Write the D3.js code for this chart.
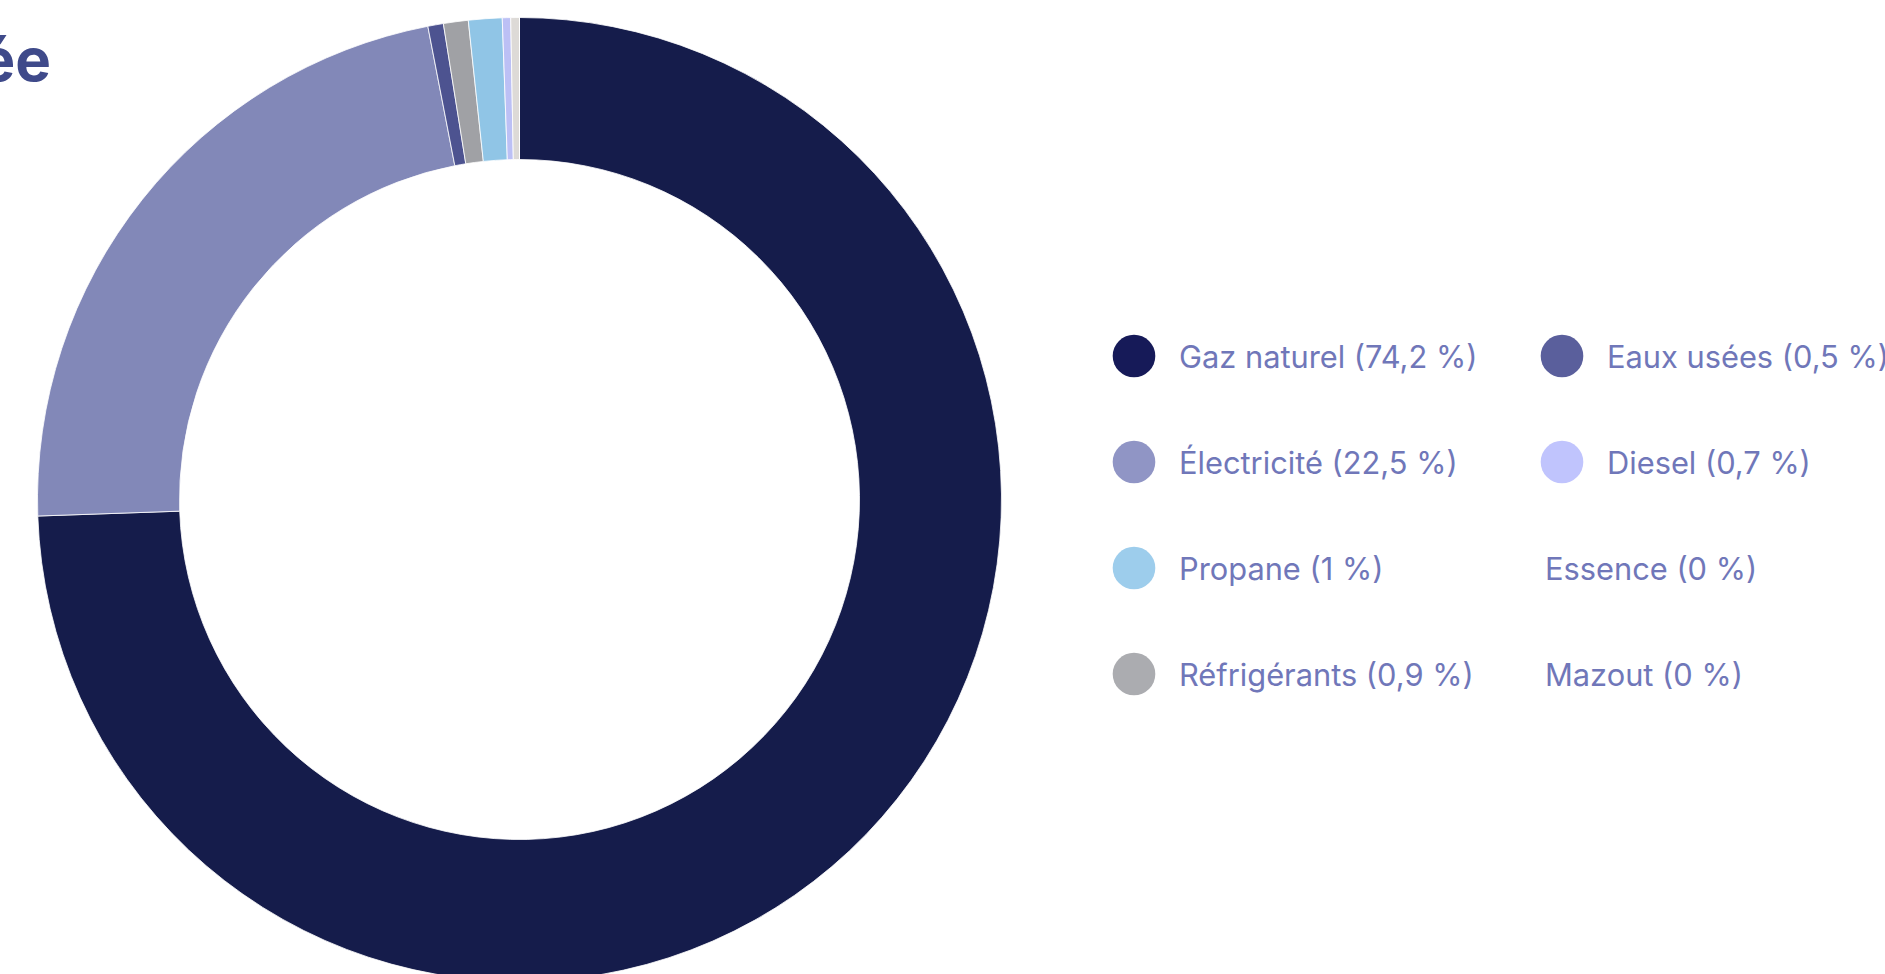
<!DOCTYPE html>
<html>
<head>
<meta charset="utf-8">
<script src="https://cdn.jsdelivr.net/npm/d3@7"></script>
<style>
  html, body { margin: 0; padding: 0; background: #fff; overflow: hidden; }
  svg { display: block; font-family: Inter, "Noto Sans", sans-serif; }
</style>
</head>
<body>
<svg id="chart" width="1885" height="974"></svg>
<script>
// ---- Data ----
const sliceNames   = ["Gaz naturel", "Électricité", "Eaux usées", "Réfrigérants", "Propane", "Diesel", "Autre", "Mazout"];
const sliceValues  = [74.45, 22.5, 0.52, 0.83, 1.125, 0.28, 0.29, 0];

const legendNames  = ["Gaz naturel", "Électricité", "Propane", "Réfrigérants", "Eaux usées", "Diesel", "Essence", "Mazout"];
const legendValues = [74.2, 22.5, 1, 0.9, 0.5, 0.7, 0, 0];

const titleText = "Répartition des émissions par source d'énergie consommée";

// ---- Styles ----
const sliceColors = {
  "Gaz naturel": "#151c4b", "Électricité": "#8288b8", "Eaux usées": "#4d5390",
  "Réfrigérants": "#a0a1a5", "Propane": "#90c5e6", "Diesel": "#bcc0f5",
  "Autre": "#dddad7", "Mazout": "#dddad7"
};
const legendColors = {
  "Gaz naturel": "#161a58", "Électricité": "#9095c5", "Propane": "#9dcdec",
  "Réfrigérants": "#abacb0", "Eaux usées": "#5a5f9c", "Diesel": "#c0c4fd",
  "Essence": "#dddad7", "Mazout": "#dddad7"
};

const svg = d3.select("#chart");

// Title (cropped at the left edge, as in the reference)
svg.append("text")
  .attr("x", 51).attr("y", 81)
  .attr("text-anchor", "end")
  .attr("font-size", 60).attr("font-weight", 700)
  .attr("fill", "#3f4a8a")
  .text(titleText);

// Donut
const cx = 519.5, cy = 499.5, outerR = 482, innerR = 340;
const pie = d3.pie().sort(null).value(d => d.v);
const arc = d3.arc().innerRadius(innerR).outerRadius(outerR);
const slices = sliceNames.map((n, i) => ({ n, v: sliceValues[i] }));

svg.append("g").attr("transform", `translate(${cx},${cy})`)
  .selectAll("path").data(pie(slices)).join("path")
  .attr("d", arc)
  .attr("fill", d => sliceColors[d.data.n])
  .attr("stroke", "#ffffff")
  .attr("stroke-width", 0.8);

// Legend (column-major, 4 rows)
const fmt = v => String(v).replace(".", ",") + " %";
const rowY = d3.scalePoint().domain(d3.range(4)).range([356, 674]);
const colCircleX = [1134, 1562];
const colTextX = [1179, 1607];
const noCircleTextX = [1117, 1545];

const items = legendNames.map((n, i) => ({ n, v: legendValues[i], col: Math.floor(i / 4), row: i % 4 }));
const lg = svg.append("g").selectAll("g").data(items).join("g")
  .attr("transform", d => `translate(0,${rowY(d.row)})`);

lg.filter(d => d.v > 0).append("circle")
  .attr("cx", d => colCircleX[d.col]).attr("cy", 0).attr("r", 21.3)
  .attr("fill", d => legendColors[d.n]);

lg.append("text")
  .attr("x", d => d.v > 0 ? colTextX[d.col] : noCircleTextX[d.col])
  .attr("y", 0).attr("dy", "0.4em")
  .attr("font-size", 30.8).attr("font-weight", 400)
  .attr("fill", "#7077b9")
  .text(d => `${d.n} (${fmt(d.v)})`);
</script>
</body>
</html>
